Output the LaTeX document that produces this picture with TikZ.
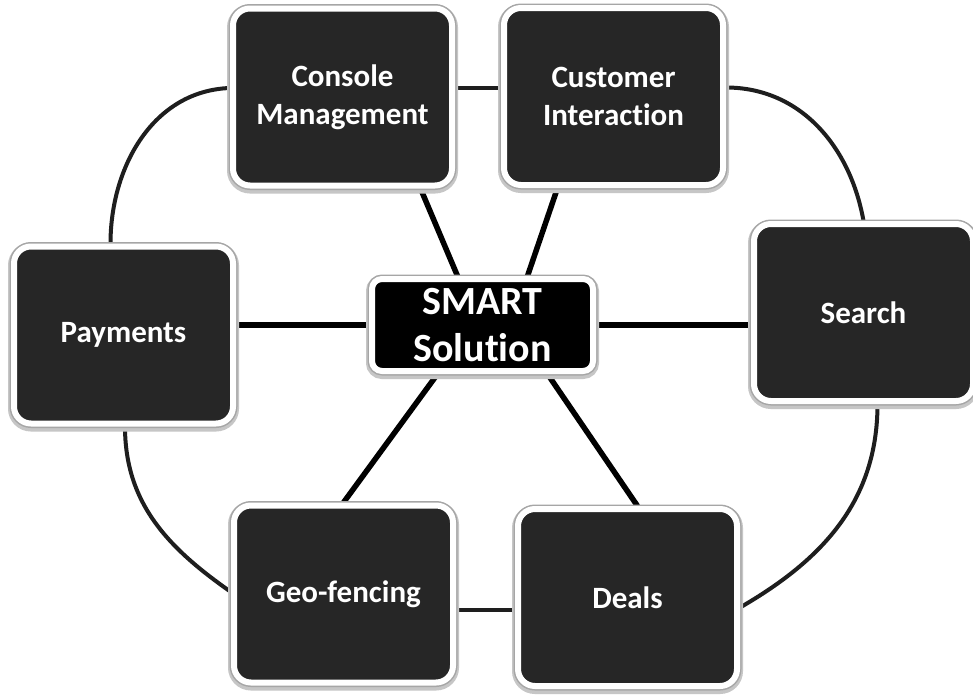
\documentclass[tikz,border=0pt]{standalone}
\usepackage{fontspec}
\setmainfont{Carlito}[Ligatures=NoCommon]
\usetikzlibrary{backgrounds}
\definecolor{boxfill}{HTML}{262626}
\definecolor{ringcol}{HTML}{1E1E1E}
\tikzset{
  box/.style={rounded corners=17pt, fill=boxfill, draw=white, line width=6pt,
    minimum width=219pt, minimum height=177pt, inner sep=0pt, text=white,
    font=\bfseries\fontsize{31}{38}\selectfont, align=center,
    preaction={draw=gray!45, line width=12pt, transform canvas={yshift=-2pt}},
    preaction={draw=gray!70, line width=9pt}},
  smartbox/.style={box, fill=black, minimum width=221pt, minimum height=92pt,
    rounded corners=10pt, font=\bfseries\fontsize{40}{47}\selectfont},
  ring/.style={draw=ringcol, line width=4pt},
  spoke/.style={draw=black, line width=5.5pt},
}
\begin{document}
\begin{tikzpicture}[x=1pt,y=-1pt]
\useasboundingbox (0,0) rectangle (973,696);
\node[box] (cm) at (342.5,97) {Console\\Management};
\node[box] (ci) at (613.5,96.5) {Customer\\Interaction};
\node[box] (se) at (863.5,312.5) {Search};
\node[box] (pa) at (123.5,335) {Payments};
\node[box] (ge) at (343.5,594) {Geo-fencing};
\node[box] (de) at (627.5,597.5) {Deals};
\node[smartbox] (sm) at (482.5,325) {SMART\\Solution};
\begin{scope}[on background layer]
  \fill[white] (0,0) rectangle (973,696);
  \draw[ring] ([yshift=9pt]cm.west) to[out=182,in=90] ([xshift=-13pt]pa.north);
  \draw[ring] ([yshift=9pt]cm.east) -- ([yshift=8.5pt]ci.west);
  \draw[ring] ([yshift=9pt]ci.east) to[out=0,in=100] (se.north);
  \draw[ring] ([xshift=14pt]se.south) to[out=-90,in=30] ([yshift=-10pt]de.east);
  \draw[ring] ([yshift=-12.5pt]de.west) -- ([yshift=-16pt]ge.east);
  \draw[ring] ([xshift=1.5pt]pa.south) to[out=-90,in=145] ([yshift=2pt]ge.west);
  \draw[spoke] ([xshift=78pt]cm.south) -- ([xshift=-25pt]sm.north);
  \draw[spoke] ([xshift=-56pt]ci.south) -- ([xshift=45pt]sm.north);
  \draw[spoke] (pa.east |- sm.west) -- (sm.west);
  \draw[spoke] (sm.east) -- (se.west |- sm.east);
  \draw[spoke] ([xshift=-45pt]sm.south) -- (ge.north);
  \draw[spoke] ([xshift=65pt]sm.south) -- ([xshift=10pt]de.north);
\end{scope}
\end{tikzpicture}
\end{document}
